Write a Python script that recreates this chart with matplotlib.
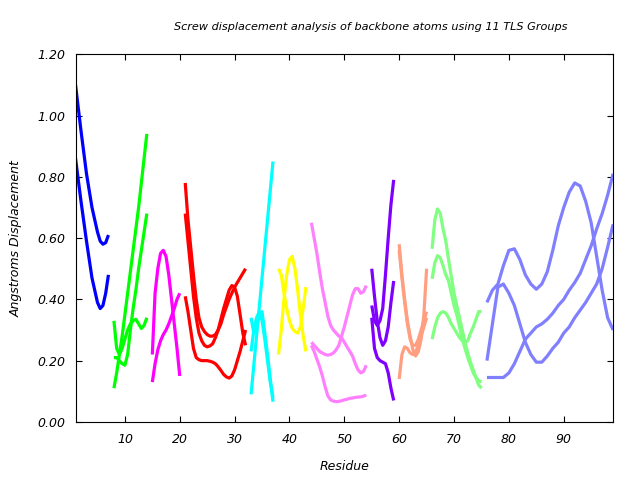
import matplotlib
matplotlib.use('Agg')
import matplotlib.pyplot as plt
import numpy as np

plt.rcParams['font.family'] = ['DejaVu Sans']
plt.rcParams['font.style'] = 'italic'
plt.rcParams['font.size'] = 9

# TLS group 1 (residues 1-7)
res_g1 = [1, 2, 3, 4, 5, 5.5, 6, 6.5, 7]
g1_a = [1.10, 0.95, 0.81, 0.70, 0.62, 0.59, 0.58, 0.585, 0.61]
g1_b = [0.86, 0.72, 0.59, 0.47, 0.39, 0.37, 0.38, 0.42, 0.48]

# TLS group 2 (residues 8-14)
res_g2 = np.arange(8, 14.25, 0.5)
g2_a = [0.11, 0.16, 0.22, 0.28, 0.35, 0.42, 0.49, 0.56, 0.63, 0.70, 0.78, 0.86, 0.94]
g2_b = [0.21, 0.21, 0.20, 0.19, 0.185, 0.22, 0.30, 0.37, 0.43, 0.50, 0.56, 0.62, 0.68]
g2_c = [0.33, 0.24, 0.22, 0.24, 0.27, 0.30, 0.32, 0.33, 0.335, 0.32, 0.305, 0.315, 0.34]

# TLS group 3 (residues 15-20)
res_g3 = np.arange(15, 20.25, 0.5)
g3_a = [0.22, 0.42, 0.50, 0.55, 0.56, 0.54, 0.48, 0.40, 0.32, 0.24, 0.15]
g3_b = [0.13, 0.19, 0.235, 0.265, 0.285, 0.30, 0.32, 0.345, 0.37, 0.40, 0.42]

# TLS group 4 (residues 21-32)
res_g4 = np.arange(21, 32.25, 0.5)
g4_a = [0.78, 0.66, 0.57, 0.48, 0.40, 0.34, 0.31, 0.295, 0.285, 0.28, 0.28, 0.285,
        0.30, 0.32, 0.35, 0.375, 0.40, 0.42, 0.44, 0.455, 0.47, 0.485, 0.50]
g4_b = [0.68, 0.59, 0.50, 0.41, 0.34, 0.29, 0.265, 0.25, 0.245, 0.248, 0.255, 0.275,
        0.30, 0.335, 0.37, 0.40, 0.43, 0.445, 0.44, 0.41, 0.35, 0.29, 0.25]
g4_c = [0.41, 0.36, 0.30, 0.24, 0.21, 0.203, 0.20, 0.20, 0.20, 0.198, 0.195, 0.19,
        0.18, 0.168, 0.155, 0.147, 0.143, 0.15, 0.17, 0.20, 0.23, 0.265, 0.30]

# TLS group 5 (residues 33-37)
res_g5 = np.arange(33, 37.25, 0.5)
g5_a = [0.09, 0.185, 0.28, 0.375, 0.47, 0.565, 0.66, 0.755, 0.85]
g5_b = [0.34, 0.29, 0.31, 0.35, 0.36, 0.29, 0.22, 0.14, 0.066]
g5_c = [0.23, 0.30, 0.34, 0.36, 0.33, 0.27, 0.20, 0.13, 0.08]

# TLS group 6 (residues 38-43)
res_g6 = np.arange(38, 43.25, 0.5)
g6_a = [0.50, 0.48, 0.42, 0.37, 0.33, 0.305, 0.295, 0.29, 0.31, 0.37, 0.44]
g6_b = [0.22, 0.30, 0.40, 0.48, 0.53, 0.54, 0.50, 0.43, 0.35, 0.28, 0.23]

# TLS group 7 (residues 44-54)
res_g7 = np.arange(44, 54.25, 0.5)
g7_a = [0.65, 0.60, 0.55, 0.49, 0.435, 0.39, 0.345, 0.315, 0.30, 0.29, 0.28,
        0.275, 0.26, 0.245, 0.23, 0.215, 0.19, 0.17, 0.16, 0.165, 0.185]
g7_b = [0.26, 0.25, 0.24, 0.23, 0.225, 0.22, 0.218, 0.22, 0.225, 0.235, 0.25,
        0.28, 0.31, 0.345, 0.38, 0.415, 0.435, 0.435, 0.42, 0.425, 0.445]
g7_c = [0.25, 0.23, 0.205, 0.18, 0.15, 0.115, 0.085, 0.072, 0.068, 0.066, 0.067,
        0.069, 0.072, 0.074, 0.077, 0.078, 0.08, 0.081, 0.082, 0.084, 0.088]

# TLS group 8 (residues 55-59)
res_g8 = np.arange(55, 59.25, 0.5)
g8_a = [0.38, 0.33, 0.315, 0.33, 0.37, 0.48, 0.60, 0.71, 0.79]
g8_b = [0.50, 0.41, 0.33, 0.275, 0.25, 0.265, 0.31, 0.39, 0.46]
g8_c = [0.34, 0.24, 0.21, 0.20, 0.195, 0.19, 0.16, 0.11, 0.07]

# TLS group 9 (residues 60-65)
res_g9 = np.arange(60, 65.25, 0.5)
g9_a = [0.58, 0.48, 0.40, 0.33, 0.28, 0.235, 0.215, 0.23, 0.27, 0.35, 0.50]
g9_b = [0.14, 0.22, 0.245, 0.24, 0.225, 0.22, 0.23, 0.25, 0.28, 0.31, 0.34]
g9_c = [0.56, 0.47, 0.39, 0.32, 0.27, 0.25, 0.25, 0.27, 0.30, 0.33, 0.36]

# TLS group 10 (residues 66-75)
res_g10 = np.arange(66, 75.25, 0.5)
g10_a = [0.565, 0.66, 0.695, 0.68, 0.63, 0.59, 0.53, 0.475, 0.42, 0.38, 0.34,
         0.30, 0.26, 0.225, 0.195, 0.17, 0.145, 0.12, 0.11]
g10_b = [0.467, 0.52, 0.543, 0.535, 0.51, 0.48, 0.46, 0.42, 0.38, 0.35, 0.31,
         0.27, 0.24, 0.21, 0.185, 0.16, 0.145, 0.135, 0.13]
g10_c = [0.27, 0.31, 0.34, 0.355, 0.36, 0.355, 0.34, 0.32, 0.305, 0.29, 0.275,
         0.265, 0.26, 0.265, 0.29, 0.31, 0.335, 0.36, 0.36]

# TLS group 11 (residues 76-99)
res_g11 = np.arange(76, 100)
g11_a = [0.39, 0.43, 0.45, 0.51, 0.56, 0.565, 0.53, 0.48, 0.45, 0.433, 0.45, 0.49,
         0.56, 0.64, 0.70, 0.75, 0.78, 0.77, 0.72, 0.65, 0.54, 0.43, 0.34, 0.30]
g11_b = [0.20, 0.32, 0.44, 0.45, 0.42, 0.38, 0.32, 0.26, 0.22, 0.195, 0.195, 0.215,
         0.24, 0.26, 0.29, 0.31, 0.34, 0.365, 0.39, 0.42, 0.45, 0.50, 0.57, 0.645]
g11_c = [0.145, 0.145, 0.145, 0.145, 0.16, 0.19, 0.23, 0.27, 0.29, 0.31, 0.32, 0.335,
         0.355, 0.38, 0.40, 0.43, 0.455, 0.485, 0.53, 0.575, 0.63, 0.68, 0.74, 0.81]

groups = [
    (res_g1, [g1_a, g1_b], '#0000ff'),
    (res_g2, [g2_a, g2_b, g2_c], '#00ff00'),
    (res_g3, [g3_a, g3_b], '#ff00ff'),
    (res_g4, [g4_a, g4_b, g4_c], '#ff0000'),
    (res_g5, [g5_a, g5_b, g5_c], '#00ffff'),
    (res_g6, [g6_a, g6_b], '#ffff00'),
    (res_g7, [g7_a, g7_b, g7_c], '#ff80ff'),
    (res_g8, [g8_a, g8_b, g8_c], '#8000ff'),
    (res_g9, [g9_a, g9_b, g9_c], '#ff9f80'),
    (res_g10, [g10_a, g10_b, g10_c], '#80ff80'),
    (res_g11, [g11_a, g11_b, g11_c], '#8080ff'),
]

fig = plt.figure(figsize=(6.4, 4.8), dpi=100)
ax = fig.add_axes([0.118, 0.121, 0.840, 0.766])

for res, curves, col in groups:
    for vals in curves:
        ax.plot(res, vals, color=col, lw=2.3, solid_capstyle='butt')

ax.set_xlim(1, 99)
ax.set_ylim(0, 1.2)
ax.set_xticks(range(10, 100, 10))
ax.set_yticks(np.arange(0, 1.21, 0.2))
ax.set_yticklabels([f'{v:.2f}' for v in np.arange(0, 1.21, 0.2)])
ax.tick_params(direction='in', length=4, width=0.8, top=True, right=True, labelsize=9)
ax.tick_params(axis='x', pad=8)
ax.tick_params(axis='y', pad=7)

ax.set_xlabel('Residue', fontsize=9, labelpad=10)
ax.set_ylabel('Angstroms Displacement', fontsize=9, labelpad=11)
fig.text(0.58, 0.944, 'Screw displacement analysis of backbone atoms using 11 TLS Groups',
         ha='center', va='center', fontsize=8.1)

fig.savefig('out.png', dpi=100)
